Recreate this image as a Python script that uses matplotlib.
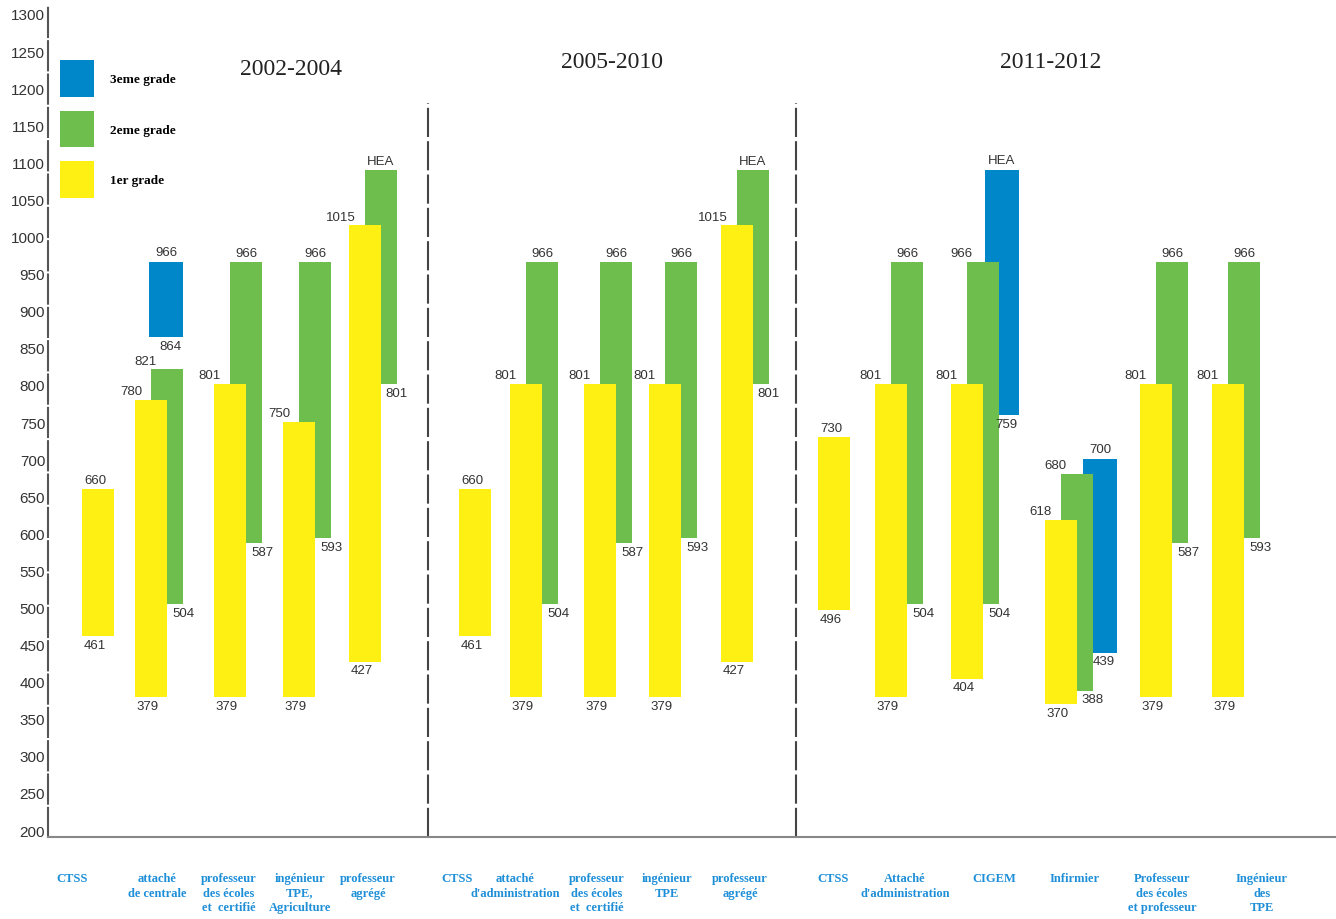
import numpy as np
import matplotlib
matplotlib.use("Agg")
import matplotlib.pyplot as plt
from matplotlib.patches import Patch

nan = np.nan
HEA = 1090  # "hors échelle A", drawn just below 1100

periods = ["2002-2004", "2005-2010", "2011-2012"]
categories = [
    "CTSS", "attaché\nde centrale", "professeur\ndes écoles\net  certifié",
    "ingénieur\nTPE,\nAgriculture", "professeur\nagrégé",
    "CTSS", "attaché\nd'administration", "professeur\ndes écoles\net  certifié",
    "ingénieur\nTPE", "professeur\nagrégé",
    "CTSS", "Attaché\nd'administration", "CIGEM", "Infirmier",
    "Professeur\ndes écoles\net professeur", "Ingénieur\ndes\nTPE",
]
g1_low = [461, 379, 379, 379, 427, 461, 379, 379, 379, 427, 496, 379, 404, 370, 379, 379]
g1_high = [660, 780, 801, 750, 1015, 660, 801, 801, 801, 1015, 730, 801, 801, 618, 801, 801]
g2_low = [nan, 504, 587, 593, 801, nan, 504, 587, 593, 801, nan, 504, 504, 388, 587, 593]
g2_high = [nan, 821, 966, 966, HEA, nan, 966, 966, 966, HEA, nan, 966, 966, 680, 966, 966]
g3_low = [nan, 864, nan, nan, nan, nan, nan, nan, nan, nan, nan, nan, 759, 439, nan, nan]
g3_high = [nan, 966, nan, nan, nan, nan, nan, nan, nan, nan, nan, nan, HEA, 700, nan, nan]
grade_names = ["3eme grade", "2eme grade", "1er grade"]

# layout (x in pixel-like units of the 1336 px wide figure)
xpos = np.array([98, 151, 230, 299, 365, 475, 526, 600, 665, 737,
                 834, 891, 967, 1061, 1156, 1228])
label_x = [72, 157, 229, 300, 368, 457, 515, 597, 667, 740,
           833, 905, 994, 1075, 1162, 1262]
blue_off = np.array([0, 15, 0, 0, 0, 0, 0, 0, 0, 0, 0, 0, 35, 39, 0, 0])
green_top_left = {1, 12, 13}
period_x = [291, 612, 1051]
period_y = [1226, 1236, 1236]
dividers = [428, 796]

YELLOW = "#FFF014"
GREEN = "#6DBE4C"
BLUE = "#0087C9"
W = 32
GOFF = 16

def val_text(v):
    return "HEA" if v == HEA else str(int(v))

fig = plt.figure(figsize=(13.36, 9.2), dpi=100)
ax = fig.add_axes([48 / 1336, 82 / 920, 1288 / 1336, 830 / 920])
ax.set_xlim(48, 1336)
ax.set_ylim(190.6, 1309.4)

lab = dict(fontsize=9.5, color="#333333", family="Liberation Sans")

for i, x in enumerate(xpos):
    # blue (3eme grade) at the back
    if not np.isnan(g3_high[i]):
        bx = x + blue_off[i]
        ax.bar(bx, g3_high[i] - g3_low[i], bottom=g3_low[i], width=34,
               color=BLUE, zorder=1)
        ax.annotate(val_text(g3_high[i]), (bx, g3_high[i]), xytext=(0, 3),
                    textcoords="offset points", ha="center", va="bottom", **lab)
        ax.annotate(val_text(g3_low[i]), (bx + 4, g3_low[i]), xytext=(0, -2),
                    textcoords="offset points", ha="center", va="top", **lab)
    # green (2eme grade)
    if not np.isnan(g2_high[i]):
        gx = x + GOFF
        ax.bar(gx, g2_high[i] - g2_low[i], bottom=g2_low[i], width=W,
               color=GREEN, zorder=2)
        if i in green_top_left:
            ax.annotate(val_text(g2_high[i]), (gx - W / 2 + 6, g2_high[i]),
                        xytext=(0, 2), textcoords="offset points",
                        ha="right", va="bottom", **lab)
        else:
            ax.annotate(val_text(g2_high[i]), (gx, g2_high[i]), xytext=(0, 2),
                        textcoords="offset points", ha="center", va="bottom", **lab)
        ax.annotate(val_text(g2_low[i]), (gx + W / 2, g2_low[i]), xytext=(0, -2),
                    textcoords="offset points", ha="center", va="top", **lab)
    # yellow (1er grade) in front
    ax.bar(x, g1_high[i] - g1_low[i], bottom=g1_low[i], width=W,
           color=YELLOW, zorder=3)
    if categories[i] == "CTSS":
        ax.annotate(val_text(g1_high[i]), (x - 3, g1_high[i]), xytext=(0, 2),
                    textcoords="offset points", ha="center", va="bottom", **lab)
    else:
        ax.annotate(val_text(g1_high[i]), (x - W / 2 + 7, g1_high[i]),
                    xytext=(0, 2), textcoords="offset points",
                    ha="right", va="bottom", **lab)
    ax.annotate(val_text(g1_low[i]), (x - 3, g1_low[i]), xytext=(0, -2),
                textcoords="offset points", ha="center", va="top", **lab)

    ax.text(label_x[i], -0.042, categories[i], transform=ax.get_xaxis_transform(),
            ha="center", va="top", fontsize=9, fontweight="bold",
            family="Liberation Serif", color="#1F8FD8", linespacing=1.3)

for x in dividers:
    ax.vlines(x, 190.6, 1180, colors="#444444", linewidth=1.5,
              linestyles=(0, (14, 2)), zorder=0)

for t, px, py in zip(periods, period_x, period_y):
    ax.text(px, py, t, ha="center", va="center", fontsize=17,
            family="Liberation Serif", color="#222222")

handles = [Patch(facecolor=c, edgecolor="none") for c in (BLUE, GREEN, YELLOW)]
ax.legend(handles, grade_names, loc="upper left", bbox_to_anchor=(0.004, 0.944),
          frameon=False, handlelength=2.6, handleheight=3.9, labelspacing=1.05,
          handletextpad=1.2, borderpad=0,
          prop=dict(family="Liberation Serif", weight="bold", size=9.5))

ax.set_yticks(np.arange(200, 1301, 50))
ax.set_xticks([])
ax.tick_params(axis="y", length=0, pad=2, labelsize=11, labelcolor="#333333")
for t in ax.get_yticklabels():
    t.set_family("Liberation Sans")
ax.spines["top"].set_visible(False)
ax.spines["right"].set_visible(False)
ax.spines["left"].set_linestyle((0, (14, 2)))
ax.spines["left"].set_linewidth(1.5)
ax.spines["left"].set_color("#555555")
ax.spines["bottom"].set_linewidth(1.5)
ax.spines["bottom"].set_color("#888888")

fig.savefig("out.png", dpi=100)
